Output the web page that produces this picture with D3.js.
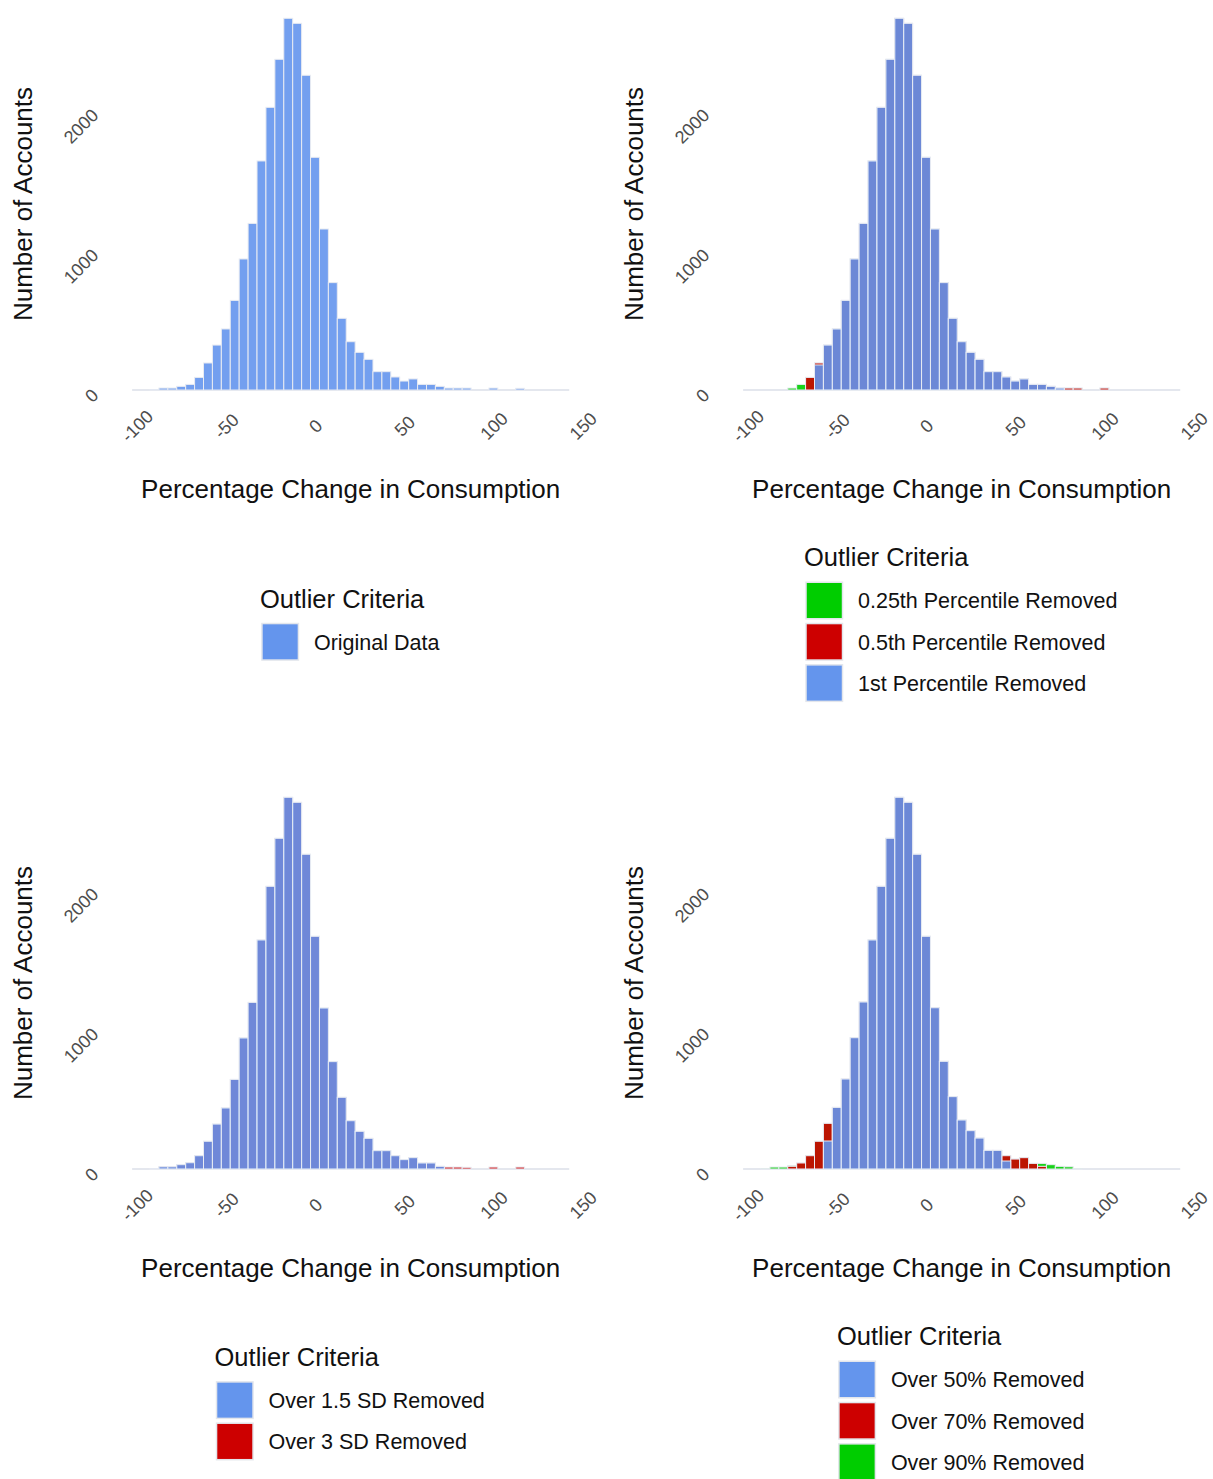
<!DOCTYPE html>
<html>
<head>
<meta charset="utf-8">
<script src="https://cdn.jsdelivr.net/npm/d3@7"></script>
<style>
  body { margin: 0; background: #fff; }
  svg text { font-family: "Liberation Sans", Arial, sans-serif; }
</style>
</head>
<body>
<svg id="chart" width="1213" height="1479"></svg>
<script>
// bin centres (binwidth 5), ticks
var binCenters = [-100,-95,-90,-85,-80,-75,-70,-65,-60,-55,-50,-45,-40,-35,-30,-25,-20,-15,-10,-5,
                  0,5,10,15,20,25,30,35,40,45,50,55,60,65,70,75,80,85,90,95,
                  100,105,110,115,120,125,130,135,140];
var xTicks = [-100, -50, 0, 50, 100, 150];
var yTicks = [0, 1000, 2000];

// top left - original data
var originalData = [0,0,3,14,14,26,40,90,193,321,436,640,936,1190,1636,2019,2362,2655,2619,2248,
                    1662,1150,767,512,345,269,219,131,131,93,64,79,40,40,26,14,14,14,0,0,
                    14,0,0,12,0,0,0,0,0];

// top right - percentile criteria
var pct025Removed = [0,0,0,0,0,14,40,90,193,321,436,640,936,1190,1636,2019,2362,2655,2619,2248,
                     1662,1150,767,512,345,269,219,131,131,93,64,79,40,40,26,14,14,14,0,0,
                     14,0,0,0,0,0,0,0,0];
var pct05Removed  = [0,0,0,0,0,0,0,90,193,321,436,640,936,1190,1636,2019,2362,2655,2619,2248,
                     1662,1150,767,512,345,269,219,131,131,93,64,79,40,40,26,14,14,14,0,0,
                     14,0,0,0,0,0,0,0,0];
var pct1Removed   = [0,0,0,0,0,0,0,0,179,321,436,640,936,1190,1636,2019,2362,2655,2619,2248,
                     1662,1150,767,512,345,269,219,131,131,93,64,79,40,40,26,14,0,0,0,0,
                     0,0,0,0,0,0,0,0,0];

// bottom left - SD criteria
var sd3Removed  = [0,0,3,16,16,31,45,95,198,321,436,640,936,1190,1636,2019,2362,2655,2619,2248,
                   1662,1150,767,512,345,269,219,131,131,95,67,81,43,43,19,14,14,12,0,0,
                   14,0,0,14,0,0,0,0,0];
var sd15Removed = [0,0,3,16,16,31,45,95,198,321,436,640,936,1190,1636,2019,2362,2655,2619,2248,
                   1662,1150,767,512,345,269,219,131,131,95,67,81,43,43,19,0,0,0,0,0,
                   0,0,0,0,0,0,0,0,0];

// bottom right - % change criteria
var over90Removed = [0,0,3,14,14,24,43,95,198,326,440,643,938,1193,1636,2019,2362,2655,2619,2248,
                     1662,1152,769,517,350,274,221,133,133,95,71,81,40,40,31,19,16,3,0,0,
                     0,0,0,0,0,0,0,0,0];
var over70Removed = [0,0,0,0,0,19,43,95,198,326,440,643,938,1193,1636,2019,2362,2655,2619,2248,
                     1662,1152,769,517,350,274,221,133,133,95,71,81,40,19,0,0,0,0,0,0,
                     0,0,0,0,0,0,0,0,0];
var over50Removed = [0,0,0,0,0,0,0,0,0,200,440,643,938,1193,1636,2019,2362,2655,2619,2248,
                     1662,1152,769,517,350,274,221,133,133,57,0,0,0,0,0,0,0,0,0,0,
                     0,0,0,0,0,0,0,0,0];

var BLUE = "#6495ED", RED = "#CD0000", GREEN = "#00CD00";

// layers listed back-to-front, legend listed top-to-bottom
var panels = [
  { col: 0, row: 0,
    layers: [{ counts: originalData, color: BLUE }],
    legend: [{ label: "Original Data", color: BLUE }] },
  { col: 1, row: 0,
    layers: [{ counts: pct025Removed, color: GREEN },
             { counts: pct05Removed, color: RED },
             { counts: pct1Removed, color: BLUE }],
    legend: [{ label: "0.25th Percentile Removed", color: GREEN },
             { label: "0.5th Percentile Removed", color: RED },
             { label: "1st Percentile Removed", color: BLUE }] },
  { col: 0, row: 1,
    layers: [{ counts: sd3Removed, color: RED },
             { counts: sd15Removed, color: BLUE }],
    legend: [{ label: "Over 1.5 SD Removed", color: BLUE },
             { label: "Over 3 SD Removed", color: RED }] },
  { col: 1, row: 1,
    layers: [{ counts: over90Removed, color: GREEN },
             { counts: over70Removed, color: RED },
             { counts: over50Removed, color: BLUE }],
    legend: [{ label: "Over 50% Removed", color: BLUE },
             { label: "Over 70% Removed", color: RED },
             { label: "Over 90% Removed", color: GREEN }] }
];

var svg = d3.select("#chart");
svg.append("rect").attr("width", 1213).attr("height", 1479).attr("fill", "#fff");

var x = d3.scaleLinear().domain([-100, 150]).range([136.6, 582.6]);
var y = d3.scaleLinear().domain([0, 2000]).range([390, 110]);
var binW = x(5) - x(0);
var binLo = binCenters[0] - 2.5, binHi = binCenters[binCenters.length - 1] + 2.5;
var panelMid = (x(binLo) + x(binHi)) / 2;

function drawPanel(p) {
  var g = svg.append("g")
    .attr("transform", "translate(" + (p.col * 611) + "," + (p.row * 779) + ")");

  // zero-count bins show up as a thin light line
  g.append("line")
    .attr("x1", x(binLo)).attr("x2", x(binHi))
    .attr("y1", y(0)).attr("y2", y(0))
    .attr("stroke", "#e4e7ee")
    .attr("stroke-width", 2);

  // bars, each layer overlaid (not stacked)
  p.layers.forEach(function(layer) {
    var bins = binCenters.map(function(c, i) { return { c: c, n: layer.counts[i] }; })
      .filter(function(d) { return d.n > 0; });
    g.append("g").selectAll("rect")
      .data(bins)
      .enter()
      .append("rect")
      .attr("x", function(d) { return x(d.c - 2.5); })
      .attr("width", binW)
      .attr("y", function(d) { return y(d.n); })
      .attr("height", function(d) { return y(0) - y(d.n); })
      .attr("fill", layer.color)
      .attr("fill-opacity", 0.9)
      .attr("stroke", "#e8ebf2")
      .attr("stroke-width", 1);
  });

  // x axis - labels only, rotated
  var xAxis = g.append("g")
    .attr("transform", "translate(0," + y(0) + ")")
    .call(d3.axisBottom(x).tickValues(xTicks).tickSize(0).tickFormat(function(d) { return String(d); }));
  xAxis.select(".domain").remove();
  xAxis.selectAll("text")
    .attr("x", 0).attr("y", 0).attr("dy", "0.35em")
    .attr("text-anchor", "middle")
    .attr("transform", "translate(0,36) rotate(-45)")
    .attr("fill", "#4d4d4d")
    .style("font-size", "18px");

  // y axis
  var yAxis = g.append("g")
    .attr("transform", "translate(95,0)")
    .call(d3.axisLeft(y).tickValues(yTicks).tickSize(0).tickFormat(function(d) { return String(d); }));
  yAxis.select(".domain").remove();
  yAxis.selectAll("text")
    .attr("x", 0).attr("y", 0).attr("dy", "0.35em")
    .attr("text-anchor", "end")
    .attr("transform", "translate(0,1.5) rotate(-45)")
    .attr("fill", "#4d4d4d")
    .style("font-size", "18px");

  // titles
  g.append("text")
    .attr("x", panelMid).attr("y", 498)
    .attr("text-anchor", "middle")
    .attr("fill", "#111")
    .style("font-size", "26px")
    .text("Percentage Change in Consumption");

  g.append("text")
    .attr("transform", "translate(32,204) rotate(-90)")
    .attr("text-anchor", "middle")
    .attr("fill", "#111")
    .style("font-size", "26px")
    .text("Number of Accounts");

  // legend
  var n = p.legend.length;
  var keySize = 36.5, keyStep = 41.3;
  var H = 18.6 + 16 + n * keySize + (n - 1) * (keyStep - keySize);
  var top = 624.5 - H / 2;
  var leg = g.append("g");

  var labels = leg.selectAll("text.lab")
    .data(p.legend)
    .enter()
    .append("text")
    .attr("class", "lab")
    .attr("y", function(d, i) { return top + 34.6 + i * keyStep + keySize / 2; })
    .attr("dy", "0.36em")
    .attr("fill", "#111")
    .style("font-size", "21.5px")
    .text(function(d) { return d.label; });

  var maxW = 0;
  labels.each(function() { maxW = Math.max(maxW, this.getComputedTextLength()); });
  var left = panelMid - (52 + maxW) / 2;
  labels.attr("x", left + 52);

  leg.selectAll("rect")
    .data(p.legend)
    .enter()
    .append("rect")
    .attr("x", left)
    .attr("y", function(d, i) { return top + 34.6 + i * keyStep; })
    .attr("width", keySize)
    .attr("height", keySize)
    .attr("fill", function(d) { return d.color; })
    .attr("stroke", "#e3e6ec")
    .attr("stroke-width", 1.5);

  leg.append("text")
    .attr("x", left - 2).attr("y", top + 18.6)
    .attr("fill", "#111")
    .style("font-size", "25.5px")
    .text("Outlier Criteria");
}

panels.forEach(drawPanel);
</script>
</body>
</html>
